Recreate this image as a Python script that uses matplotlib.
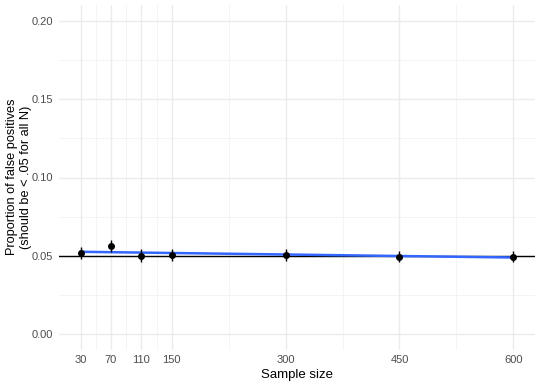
import numpy as np
import matplotlib
matplotlib.use("Agg")
import matplotlib.pyplot as plt

plt.rcParams["font.family"] = ["Liberation Sans", "DejaVu Sans"]

sample_sizes = [30, 70, 110, 150, 300, 450, 600]
prop_fp = [0.0518, 0.0562, 0.0500, 0.0505, 0.0505, 0.0495, 0.0495]
err = [0.0040, 0.0040, 0.0040, 0.0038, 0.0036, 0.0036, 0.0036]
x_ticks = [30, 70, 110, 150, 300, 450, 600]
x_minor = [50, 90, 130, 225, 375, 525]
y_ticks = [0.00, 0.05, 0.10, 0.15, 0.20]
y_minor = [0.025, 0.075, 0.125, 0.175]
alpha_level = 0.05

fig = plt.figure(figsize=(5.4, 3.86), dpi=100)
ax = fig.add_axes([59/540, 1-349.6/386, (535-59)/540, (349.6-5.4)/386])

for v in x_minor:
    ax.axvline(v, color="#F2F2F2", lw=0.6, zorder=0)
for v in y_minor:
    ax.axhline(v, color="#F2F2F2", lw=0.6, zorder=0)
for v in x_ticks:
    ax.axvline(v, color="#EBEBEB", lw=1.0, zorder=0)
for v in y_ticks:
    ax.axhline(v, color="#EBEBEB", lw=1.0, zorder=0)

ax.axhline(alpha_level, color="black", lw=1.0, zorder=2)

xs = np.array(sample_sizes, float)
ys = np.array(prop_fp)
b, a = np.polyfit(xs, ys, 1)
xl = np.array([xs.min(), xs.max()])
ax.plot(xl, a + b * xl, color="#3366FF", lw=1.8, zorder=3)

ax.errorbar(sample_sizes, prop_fp, yerr=err, fmt="o", color="black",
            ms=4, elinewidth=1.0, capsize=0, zorder=4)

ax.set_xlim(1.5, 628.5)
ax.set_ylim(-0.01, 0.21)
ax.set_xticks(x_ticks)
ax.set_xticklabels([str(v) for v in x_ticks])
ax.set_yticks(y_ticks)
ax.set_yticklabels(["0.00", "0.05", "0.10", "0.15", "0.20"])
for s in ax.spines.values():
    s.set_visible(False)
ax.tick_params(length=0, labelsize=8, labelcolor="#4D4D4D", pad=4)
ax.set_xlabel("Sample size", fontsize=9.5, labelpad=3)
fig.text(19/540, 1-177/386, "Proportion of false positives\n(should be < .05 for all N)",
         rotation=90, ha="center", va="center", multialignment="center", fontsize=9.2)

fig.savefig("out.png", dpi=100)
